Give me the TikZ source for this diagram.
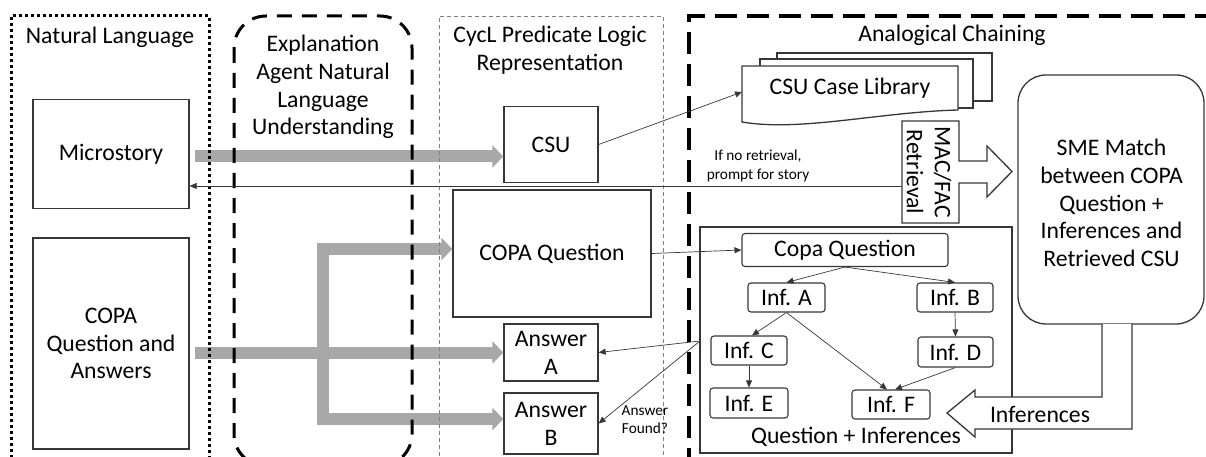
\documentclass[tikz,border=0pt]{standalone}
\usepackage{fontspec}
\setmainfont{Carlito}
\usetikzlibrary{arrows.meta}
\definecolor{lc}{RGB}{55,55,55}
\definecolor{ga}{RGB}{168,168,168}
\begin{document}
\begin{tikzpicture}[x=1pt,y=-1pt,
  every node/.style={inner sep=0pt, align=center},
  big/.style={font=\fontsize{23.7}{27.8}\selectfont},
  small/.style={font=\fontsize{15.3}{18.5}\selectfont},
  bx/.style={draw=lc, line width=1.3pt, big},
  ib/.style={draw=lc, line width=1.1pt, rounded corners=3pt, big},
  tarr/.style={draw=lc, line width=0.7pt, -{Triangle[length=7pt,width=6pt]}},
  garr/.style={draw=ga, line width=12pt, -{Triangle[length=11pt,width=22pt]}},
  shapeline/.style={draw=lc, line width=1.3pt, fill=white},
]
\useasboundingbox (0,0) rectangle (1206,457);

% ---- nodes ----
\node[bx, minimum width=156pt, minimum height=109pt] (micro) at (111,154) {Microstory};
\node[bx, minimum width=156pt, minimum height=211pt] (copa) at (111,343.5) {COPA\\Question and\\Answers};
\node[bx, minimum width=94pt, minimum height=76pt] (csu) at (551,144.5) {CSU};
\node[bx, minimum width=198pt, minimum height=127pt] (copaq) at (552,253.5) {COPA Question};
\node[bx, minimum width=94pt, minimum height=57pt] (ansA) at (551,352.5) {Answer\\A};
\node[bx, minimum width=94pt, minimum height=61pt] (ansB) at (551,423.5) {Answer\\B};

\node[draw=lc, line width=1.3pt, minimum width=312pt, minimum height=226pt] (qibox) at (856,340) {};
\node[big] (qilabel) at (856,437) {Question + Inferences};

\node[ib, minimum width=206pt, minimum height=33pt] (cq) at (845,250) {Copa Question};
\node[ib, minimum width=77pt, minimum height=29pt] (infA) at (786.5,297.5) {Inf. A};
\node[ib, minimum width=76pt, minimum height=29pt] (infB) at (955,297.5) {Inf. B};
\node[ib, minimum width=76pt, minimum height=29pt] (infC) at (749,350.5) {Inf. C};
\node[ib, minimum width=75pt, minimum height=30pt] (infD) at (955.5,352) {Inf. D};
\node[ib, minimum width=78pt, minimum height=30pt] (infE) at (749,403) {Inf. E};
\node[ib, minimum width=78pt, minimum height=29pt] (infF) at (891,404.5) {Inf. F};

\node[draw=lc, line width=1.3pt, rounded corners=28pt, minimum width=186pt, minimum height=249pt] (sme) at (1111,199.5) {};
\node[big] (smetext) at (1111.5,203) {SME Match\\between COPA\\Question +\\Inferences and\\Retrieved CSU};

% ---- grey arrows ----
\coordinate (ms) at (195,156.5);
\coordinate (cs) at (195,352.5);
\coordinate (jt) at (323,249);
\coordinate (jb) at (323,419);
\draw[garr] (ms) -- (ms -| csu.west);
\draw[garr] (cs) -- (ansA.west);
\draw[garr, line join=miter] (jb) -- (jt) -- (jt -| copaq.west);
\draw[garr, line join=miter] (jt) -- (jb) -- (jb -| ansB.west);

% ---- frames ----
\draw[line width=3pt, dash pattern=on 3pt off 3pt] (11,470) -- (11,16) -- (209,16) -- (209,470);
\draw[line width=3pt, dash pattern=on 15pt off 10pt, rounded corners=32pt] (234,16) rectangle (412,466);
\draw[gray, line width=0.7pt, dash pattern=on 4pt off 3pt] (439,470) -- (439,16) -- (663,16) -- (663,470);
\draw[line width=3.5pt, dash pattern=on 22pt off 10pt] (689,470) -- (689,16) -- (1230,16);

% ---- titles ----
\node[big] (tnl) at (110,37) {Natural Language};
\node[big] (tex) at (323,87) {Explanation\\Agent Natural\\Language\\Understanding};
\node[big] (tcy) at (550,50) {CycL Predicate Logic\\Representation};
\node[big] (tac) at (952,35) {Analogical Chaining};

% ---- case library ----
\draw[shapeline] (777,53) rectangle (992,101);
\draw[shapeline] (760,59) rectangle (973,108);
\draw[shapeline] (742,66) -- (958,66) -- (958,110) .. controls (880,112) and (800,132) .. (742,122) -- cycle;
\node[big] (lib) at (850,88) {CSU Case Library};
\coordinate (libw) at (742,92);

% ---- MAC/FAC retrieval ----
\draw[shapeline] (902,121) -- (959,121) -- (959,161) -- (987,161) -- (987,146) -- (1012,171.5) -- (987,197) -- (987,183) -- (959,183) -- (959,223) -- (902,223) -- cycle;
\node[big, rotate=-90] (mf) at (929,172) {MAC/FAC\\Retrieval};
\coordinate (nr) at (902,186);

% ---- inferences arrow ----
\draw[shapeline] (1102,324) -- (1102,397) -- (975,397) -- (975,390) -- (947,413) -- (975,437) -- (975,429) -- (1132,429) -- (1132,324);
\node[big] (inf) at (1040,414) {Inferences};

% ---- thin connectors ----
\draw[tarr] (csu.east) -- (libw);
\draw[tarr] (nr) -- (nr -| micro.east);
\node[small] (noret) at (758,166) {If no retrieval,\\prompt for story};
\draw[tarr] (copaq.east) -- (cq.west);
\coordinate (qi) at (700,341);
\draw[tarr] (qi) -- (ansA.east);
\draw[tarr] (qi) -- (ansB.east);
\node[small] (found) at (645,419.5) {Answer\\Found?};

\draw[tarr] (cq.south) -- (infA.north);
\draw[tarr] (cq.south) -- (infB.north);
\draw[tarr] (infA.south) -- ([xshift=3pt]infC.north);
\draw[tarr] (infA.south) -- ([xshift=-4pt]infF.north);
\draw[tarr] (infB.south) -- (infD.north);
\draw[tarr] (infC.south) -- (infE.north);
\draw[tarr] (infD.south) -- ([xshift=4pt]infF.north);
\end{tikzpicture}
\end{document}
